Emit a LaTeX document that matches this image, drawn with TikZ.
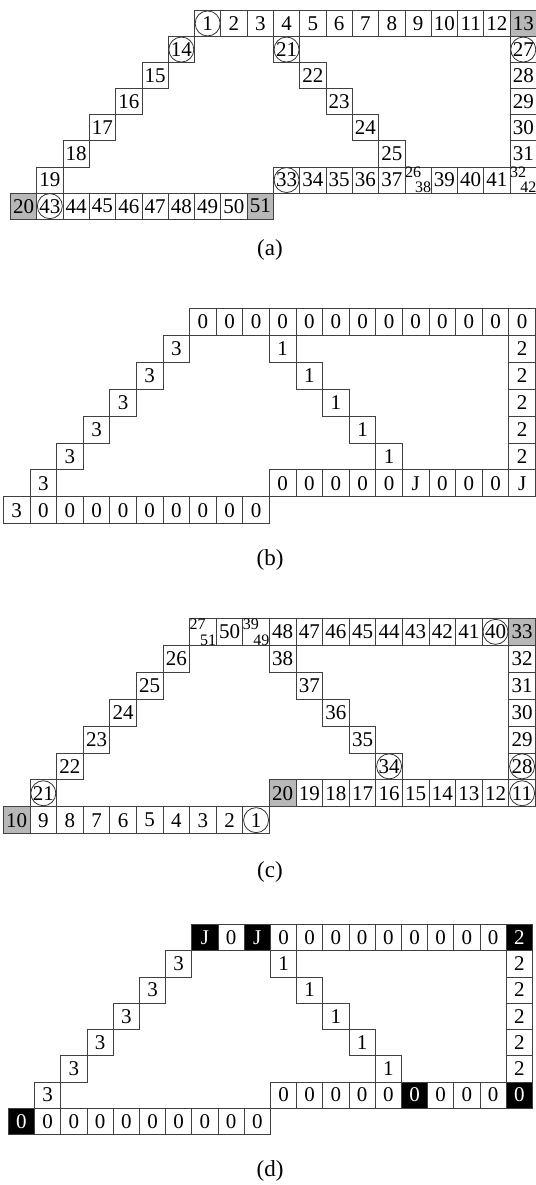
\documentclass[tikz,border=0pt]{standalone}
\usepackage{fontspec}
\setmainfont{Liberation Serif}
\newcommand\cl[5][nn]{\node[cell,#1] (#2) at (#3,#4) {#5};}
\newcommand\spl[6][nn]{\node[cell,#1] (#2) at (#3,#4) {};
  \node[smalltxt,anchor=north west] (#2t) at (#2.north west) {#5};
  \node[smalltxt,anchor=south east] (#2b) at (#2.south east) {#6};}
\begin{document}
\begin{tikzpicture}[x=1pt,y=-1pt,
  cell/.style={draw=black!75, line width=0.8pt, minimum width=\cw, minimum height=\ch,
    inner sep=0pt, anchor=north west, font=\fontsize{21}{21}\selectfont},
  nn/.style={},
  circ/.style={path picture={\draw[black!80,line width=0.8pt] (path picture bounding box.center) circle (12.5pt);}},
  gry/.style={fill=black!28},
  blk/.style={fill=black, text=white},
  smalltxt/.style={inner sep=0.3pt, font=\fontsize{16}{16}\selectfont},
  lab/.style={font=\fontsize{23}{23}\selectfont, inner sep=0pt}]
\useasboundingbox (0,0) rectangle (535,1185);
% ---------------- panel (a)
\begin{scope}[shift={(10pt,-10pt)},x={(26.3pt,0pt)},y={(0pt,-26.1pt)}]
\def\cw{26.3pt}\def\ch{26.1pt}
\cl[circ]{a1}{7}{0}{1}
\foreach \i in {2,...,12}{\pgfmathtruncatemacro\c{\i+6}\cl{a\i}{\c}{0}{\i}}
\cl[gry]{a13}{19}{0}{13}
\cl[circ]{a14}{6}{1}{14}
\foreach \i in {15,...,19}{\pgfmathtruncatemacro\c{20-\i}\pgfmathtruncatemacro\r{\i-13}\cl{a\i}{\c}{\r}{\i}}
\cl[gry]{a20}{0}{7}{20}
\cl[circ]{a21}{10}{1}{21}
\foreach \i in {22,...,25}{\pgfmathtruncatemacro\c{\i-11}\pgfmathtruncatemacro\r{\i-20}\cl{a\i}{\c}{\r}{\i}}
\spl{a26}{15}{6}{26}{38}
\cl[circ]{a27}{19}{1}{27}
\foreach \i in {28,...,31}{\pgfmathtruncatemacro\r{\i-26}\cl{a\i}{19}{\r}{\i}}
\spl{a32}{19}{6}{32}{42}
\cl[circ]{a33}{10}{6}{33}
\foreach \i in {34,...,37,39,40,41}{\pgfmathtruncatemacro\c{\i-23}\cl{a\i}{\c}{6}{\i}}
\cl[circ]{a43}{1}{7}{43}
\foreach \i in {44,...,50}{\pgfmathtruncatemacro\c{\i-42}\cl{a\i}{\c}{7}{\i}}
\cl[gry]{a51}{9}{7}{51}
\end{scope}
\node[lab] (la) at (270,250) {(a)};
% ---------------- panel (b)
\begin{scope}[shift={(3pt,-308pt)},x={(26.6pt,0pt)},y={(0pt,-26.9pt)}]
\def\cw{26.6pt}\def\ch{26.9pt}
\foreach \c in {7,...,19}{\cl{b-\c-0}{\c}{0}{0}}
\foreach \r in {1,...,5}{\cl{b-19-\r}{19}{\r}{2}}
\foreach \r in {1,...,5}{\pgfmathtruncatemacro\c{\r+9}\cl{b-\c-\r}{\c}{\r}{1}}
\foreach \r in {1,...,6}{\pgfmathtruncatemacro\c{7-\r}\cl{b-\c-\r}{\c}{\r}{3}}
\foreach \c/\t in {10/0,11/0,12/0,13/0,14/0,15/J,16/0,17/0,18/0,19/J}{\cl{b-\c-6}{\c}{6}{\t}}
\cl{b-0-7}{0}{7}{3}
\foreach \c in {1,...,9}{\cl{b-\c-7}{\c}{7}{0}}
\end{scope}
\node[lab] (lb) at (270,560) {(b)};
% ---------------- panel (c)
\begin{scope}[shift={(3pt,-618pt)},x={(26.6pt,0pt)},y={(0pt,-26.9pt)}]
\def\cw{26.6pt}\def\ch{26.9pt}
\spl{c-7-0}{7}{0}{27}{51}
\cl{c-8-0}{8}{0}{50}
\spl{c-9-0}{9}{0}{39}{49}
\foreach \c in {10,...,17}{\pgfmathtruncatemacro\t{58-\c}\cl{c-\c-0}{\c}{0}{\t}}
\cl[circ]{c-18-0}{18}{0}{40}
\cl[gry]{c-19-0}{19}{0}{33}
\foreach \r in {1,...,4}{\pgfmathtruncatemacro\t{33-\r}\cl{c-19-\r}{19}{\r}{\t}}
\cl[circ]{c-19-5}{19}{5}{28}
\cl[circ]{c-19-6}{19}{6}{11}
\foreach \r in {1,...,4}{\pgfmathtruncatemacro\c{\r+9}\pgfmathtruncatemacro\t{39-\r}\cl{c-\c-\r}{\c}{\r}{\t}}
\cl[circ]{c-14-5}{14}{5}{34}
\foreach \r in {1,...,5}{\pgfmathtruncatemacro\c{7-\r}\pgfmathtruncatemacro\t{27-\r}\cl{c-\c-\r}{\c}{\r}{\t}}
\cl[circ]{c-1-6}{1}{6}{21}
\cl[gry]{c-10-6}{10}{6}{20}
\foreach \c in {11,...,18}{\pgfmathtruncatemacro\t{30-\c}\cl{c-\c-6}{\c}{6}{\t}}
\cl[gry]{c-0-7}{0}{7}{10}
\foreach \c in {1,...,8}{\pgfmathtruncatemacro\t{10-\c}\cl{c-\c-7}{\c}{7}{\t}}
\cl[circ]{c-9-7}{9}{7}{1}
\end{scope}
\node[lab] (lc) at (270,872) {(c)};
% ---------------- panel (d)
\begin{scope}[shift={(8pt,-924pt)},x={(26.2pt,0pt)},y={(0pt,-26.25pt)}]
\def\cw{26.2pt}\def\ch{26.25pt}
\cl[blk]{d-7-0}{7}{0}{J}
\cl{d-8-0}{8}{0}{0}
\cl[blk]{d-9-0}{9}{0}{J}
\foreach \c in {10,...,18}{\cl{d-\c-0}{\c}{0}{0}}
\cl[blk]{d-19-0}{19}{0}{2}
\foreach \r in {1,...,5}{\cl{d-19-\r}{19}{\r}{2}}
\foreach \r in {1,...,5}{\pgfmathtruncatemacro\c{\r+9}\cl{d-\c-\r}{\c}{\r}{1}}
\foreach \r in {1,...,6}{\pgfmathtruncatemacro\c{7-\r}\cl{d-\c-\r}{\c}{\r}{3}}
\foreach \c/\s in {10/nn,11/nn,12/nn,13/nn,14/nn,15/blk,16/nn,17/nn,18/nn,19/blk}{\cl[\s]{d-\c-6}{\c}{6}{0}}
\cl[blk]{d-0-7}{0}{7}{0}
\foreach \c in {1,...,9}{\cl{d-\c-7}{\c}{7}{0}}
\end{scope}
\node[lab] (ld) at (270,1171) {(d)};
\end{tikzpicture}
\end{document}
